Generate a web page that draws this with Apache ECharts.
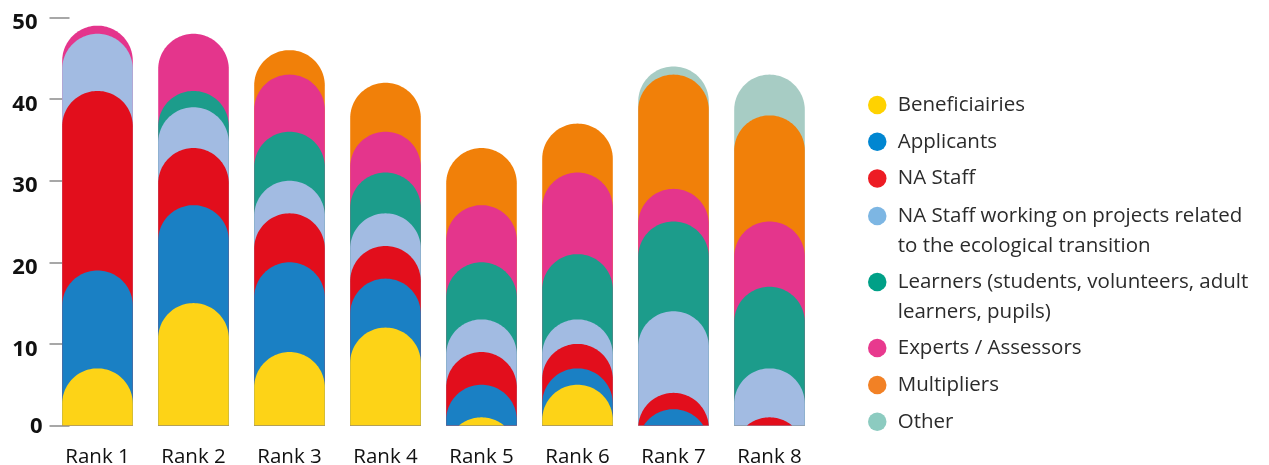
<!DOCTYPE html>
<html>
<head>
<meta charset="utf-8">
<script src="https://cdn.jsdelivr.net/npm/echarts@6/dist/echarts.min.js"></script>
<style>
  html, body { margin: 0; padding: 0; background: #ffffff; }
  #chart { width: 1269px; height: 465px; }
</style>
</head>
<body>
<div id="chart"></div>
<script>
// ---- Data ----
const categories = ['Rank 1', 'Rank 2', 'Rank 3', 'Rank 4', 'Rank 5', 'Rank 6', 'Rank 7', 'Rank 8'];
const seriesNames = [
  'Beneficiairies',
  'Applicants',
  'NA Staff',
  'NA Staff working on projects related to the ecological transition',
  'Learners (students, volunteers, adult learners, pupils)',
  'Experts / Assessors',
  'Multipliers',
  'Other'
];
const beneficiaries = [7, 15, 9, 12, 1, 5, 0, 0];
const applicants    = [12, 12, 11, 6, 4, 2, 2, 0];
const naStaff       = [22, 7, 6, 4, 4, 3, 2, 1];
const naStaffEco    = [7, 5, 4, 4, 4, 3, 10, 6];
const learners      = [0, 2, 6, 5, 7, 8, 11, 10];
const experts       = [1, 7, 7, 5, 7, 10, 4, 8];
const multipliers   = [0, 0, 3, 6, 7, 6, 14, 13];
const other         = [0, 0, 0, 0, 0, 0, 1, 5];
const yTicks = [0, 10, 20, 30, 40, 50];

// ---- Styling ----
const barColors = ['#FDD317', '#1A80C4', '#E20E1C', '#A2BBE2', '#1C9C8B', '#E4358C', '#F18009', '#A7CCC4'];
const legendColors = ['#FFD200', '#0086D1', '#ED1C24', '#7DB6E3', '#00A087', '#E8398E', '#F28125', '#8CCBC0'];
const legendLabels = {
  'NA Staff working on projects related to the ecological transition': '\nNA Staff working on projects related\nto the ecological transition',
  'Learners (students, volunteers, adult learners, pupils)': '\nLearners (students, volunteers, adult\nlearners, pupils)'
};
const legendCenters = [105, 141.7, 178.4, 216, 282, 348, 385, 421.7];

const segs = [beneficiaries, applicants, naStaff, naStaffEco, learners, experts, multipliers, other];

// cumulative tops
const cumul = segs.map(() => []);
for (let j = 0; j < categories.length; j++) {
  let acc = 0;
  for (let i = 0; i < segs.length; i++) {
    acc += segs[i][j];
    cumul[i][j] = acc;
  }
}

const BAR_W = 70.6;

function renderDome(params, api) {
  const seg = api.value(2);
  if (!seg) return null;
  const base = api.coord([api.value(0), 0]);
  const top = api.coord([api.value(0), api.value(1)]);
  const r = BAR_W / 2;
  const cx = base[0];
  const by = base[1];
  const h = by - top[1];
  const cy = top[1] + r;
  const pts = [];
  let t0 = 0;
  if (h >= r) {
    pts.push([cx - r, by]);
  } else {
    t0 = Math.asin((r - h) / r);
  }
  const N = 60;
  for (let k = 0; k <= N; k++) {
    const t = (Math.PI - t0) - k * (Math.PI - 2 * t0) / N;
    pts.push([cx + r * Math.cos(t), cy - r * Math.sin(t)]);
  }
  if (h >= r) pts.push([cx + r, by]);
  return {
    type: 'polygon',
    shape: { points: pts },
    style: { fill: api.visual('color') }
  };
}

const series = seriesNames.map((name, i) => ({
  name: name,
  type: 'custom',
  renderItem: renderDome,
  z: 20 - i,
  itemStyle: { color: barColors[i] },
  encode: { x: 0, y: 1 },
  data: categories.map((c, j) => [j, cumul[i][j], segs[i][j]])
}));

const legends = seriesNames.map((name, i) => {
  const twoLine = !!legendLabels[name];
  return {
    show: true,
    orient: 'vertical',
    left: 868,
    top: legendCenters[i] - (twoLine ? 45 : 15),
    padding: 0,
    icon: 'circle',
    itemWidth: 31,
    itemHeight: 18.5,
    selectedMode: false,
    formatter: (n) => legendLabels[n] || n,
    textStyle: {
      fontFamily: 'Open Sans',
      fontSize: 20.5,
      lineHeight: 30,
      color: '#2b2b2b'
    },
    data: [{ name: name, itemStyle: { color: legendColors[i] } }]
  };
});

const chart = echarts.init(document.getElementById('chart'), null, { renderer: 'canvas' });
chart.setOption({
  animation: false,
  backgroundColor: '#ffffff',
  grid: {
    left: 49.5, right: 451.5, top: 17.5, bottom: 39.5,
    containLabel: false,
    outerBoundsMode: 'none'
  },
  legend: legends,
  xAxis: {
    type: 'category',
    data: categories,
    boundaryGap: true,
    axisLine: { show: false },
    axisTick: { show: false },
    axisLabel: {
      margin: 21,
      fontFamily: 'Open Sans',
      fontSize: 20.5,
      color: '#111111'
    },
    splitLine: { show: false }
  },
  yAxis: {
    type: 'value',
    min: yTicks[0],
    max: yTicks[yTicks.length - 1],
    interval: 10,
    axisLine: { show: false },
    axisTick: {
      show: true,
      inside: true,
      length: 20,
      lineStyle: { color: '#8a8a8a', width: 1.5 }
    },
    axisLabel: {
      margin: 7,
      formatter: (v) => (v === 0 ? '{z|0}' : '{n|' + v + '}'),
      rich: {
        n: {
          fontFamily: 'Open Sans',
          fontSize: 22,
          fontWeight: 'bold',
          color: '#111111',
          padding: [11, 5, 0, 0]
        },
        z: {
          fontFamily: 'Open Sans',
          fontSize: 22,
          fontWeight: 'bold',
          color: '#111111',
          padding: [3, 0, 0, 0]
        }
      }
    },
    splitLine: { show: false }
  },
  series: series
});
</script>
</body>
</html>
